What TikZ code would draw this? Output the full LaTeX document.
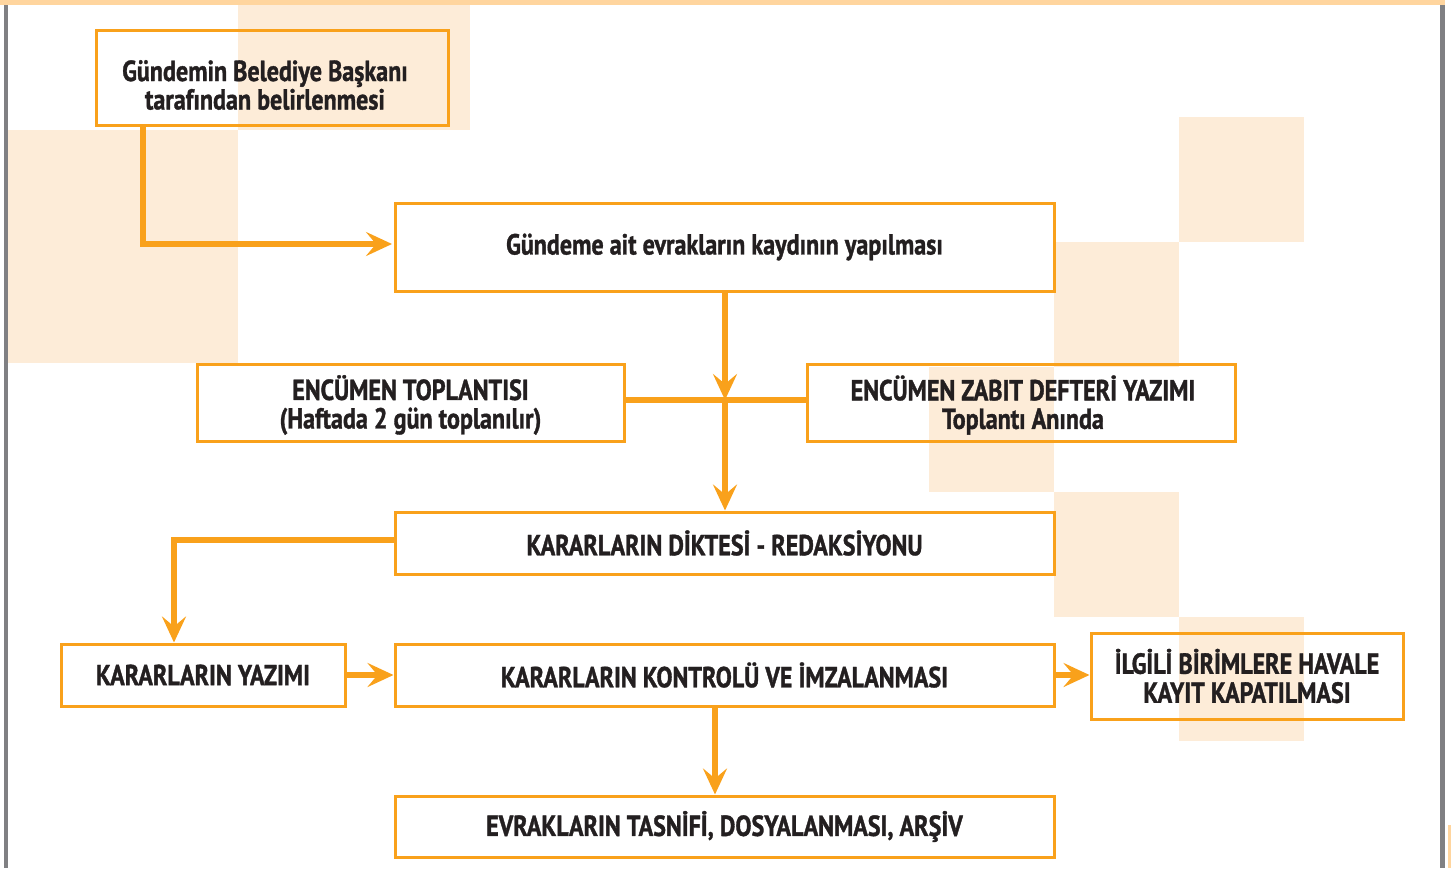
\documentclass[tikz,border=0pt]{standalone}
\usepackage{fontspec}
\setmainfont[FakeStretch=0.83,BoldFeatures={FakeBold=1.2}]{PT Sans}
\usetikzlibrary{arrows.meta}
\definecolor{org}{HTML}{F9A11B}
\definecolor{bgsq}{HTML}{FDECD8}
\definecolor{topband}{HTML}{FFD59E}
\definecolor{txt}{HTML}{231F20}
\definecolor{edge}{HTML}{808083}
\begin{document}
\begin{tikzpicture}[x=1pt,y=-1pt,
  box/.style={draw=org, line width=3pt, inner sep=0pt, align=center,
    text=txt, font=\fontsize{29}{29}\selectfont\bfseries},
  lbl/.style={inner sep=0pt, align=center, text=txt,
    font=\fontsize{29}{28.5}\selectfont\bfseries},
  conn/.style={draw=org, line width=6pt},
  arr/.style={conn, -{Stealth[length=26pt,width=24pt,inset=10pt]}}]
\useasboundingbox (0,0) rectangle (1451,868);
% background
\fill[bgsq] (238,5) rectangle (470,130);
\fill[bgsq] (8,130) rectangle (238,363);
\fill[bgsq] (1179,117) rectangle (1304,242);
\fill[bgsq] (1054,242) rectangle (1179,367);
\fill[bgsq] (929,367) rectangle (1054,492);
\fill[bgsq] (1054,492) rectangle (1179,617);
\fill[bgsq] (1179,617) rectangle (1304,741);
\fill[topband] (0,0) rectangle (1445,5);
\fill[edge] (4,5) rectangle (8,868);
\fill[edge] (1440,5) rectangle (1445,868);
\fill[topband] (1448,825) rectangle (1451,868);
% boxes
\node[box, minimum width=352, minimum height=95] (b1) at (272,77.5) {};
\node[lbl] (b1t) at (265,85) {Gündemin Belediye Başkanı\\tarafından belirlenmesi};
\node[box, minimum width=659, minimum height=88] (b2) at (724.5,247) {Gündeme ait evrakların kaydının yapılması};
\node[box, minimum width=427, minimum height=77] (b3) at (410.5,402.5) {};
\node[lbl] (b3t) at (410.5,405) {ENCÜMEN TOPLANTISI\\(Haftada 2 gün toplanılır)};
\node[box, minimum width=428, minimum height=77] (b4) at (1021,402.5) {};
\node[lbl] (b4t) at (1023,405) {ENCÜMEN ZABIT DEFTERİ YAZIMI\\Toplantı Anında};
\node[box, minimum width=659, minimum height=62] (b5) at (724.5,543) {KARARLARIN DİKTESİ - REDAKSİYONU};
\node[box, minimum width=284, minimum height=62] (b6) at (203,675) {KARARLARIN YAZIMI};
\node[box, minimum width=659, minimum height=62] (b7) at (724.5,675) {KARARLARIN KONTROLÜ VE İMZALANMASI};
\node[box, minimum width=312, minimum height=86] (b8) at (1247,676) {İLGİLİ BİRİMLERE HAVALE\\KAYIT KAPATILMASI};
\node[box, minimum width=659, minimum height=61] (b9) at (724.5,826.5) {EVRAKLARIN TASNİFİ, DOSYALANMASI, ARŞİV};
% connectors
\coordinate (s1) at (143,125);
\coordinate (t1) at (392,244);
\draw[arr] (s1) |- (t1);
\coordinate (j) at (725,400);
\draw[conn] (b3.east |- j) -- (b4.west |- j);
\draw[arr] (b2.south -| j) -- (j);
\draw[arr] (j) -- (b5.north -| j);
\coordinate (k) at (174,540);
\draw[arr] (b5.west |- k) -| (b6.north -| k);
\draw[arr] (b6.east) -- (b7.west);
\draw[arr] (b7.east) -- (b8.west |- b7.east);
\coordinate (m) at (715,750);
\draw[arr] (b7.south -| m) -- (b9.north -| m);
\end{tikzpicture}
\end{document}
